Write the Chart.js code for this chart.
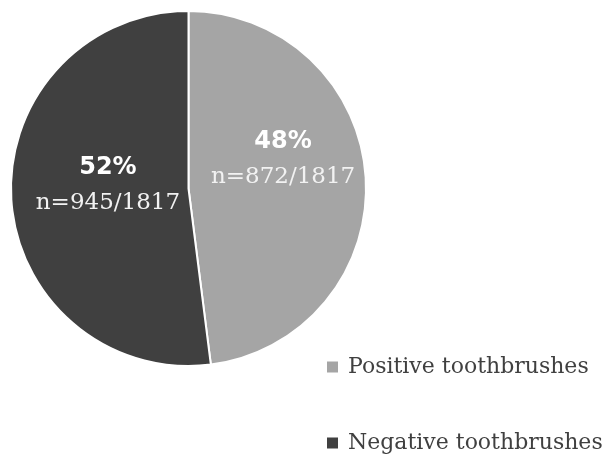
<!DOCTYPE html>
<html>
<head>
<meta charset="utf-8">
<script src="https://cdn.jsdelivr.net/npm/chart.js@4/dist/chart.umd.min.js"></script>
<style>
  html, body { margin: 0; padding: 0; background: #fff; }
  #wrap { width: 606px; height: 458px; position: relative; }
</style>
</head>
<body>
<div id="wrap"><canvas id="pie-chart"></canvas></div>
<script>
const labels = ['Positive toothbrushes', 'Negative toothbrushes']
const counts = [872, 945]
const total = 1817
const percents = ['48%', '52%']
const colors = ['#a5a5a5', '#404040']

const ctx = document.getElementById('pie-chart')

// label nudges relative to each slice's center point
const nudge = [[6, -24], [8, -9]]

const sliceLabels = {
  id: 'sliceLabels',
  afterDatasetsDraw(chart) {
    const c = chart.ctx
    const meta = chart.getDatasetMeta(0)
    meta.data.forEach((arc, i) => {
      const p = arc.tooltipPosition()
      const x = p.x + nudge[i][0]
      const y = p.y + nudge[i][1]
      c.save()
      c.fillStyle = '#ffffff'
      c.textAlign = 'center'
      c.textBaseline = 'middle'
      c.font = 'bold 24px "DejaVu Sans"'
      c.fillText(percents[i], x, y - 17)
      c.font = '23px "DejaVu Serif"'
      c.fillStyle = '#f2f2f2'
      c.fillText('n=' + counts[i] + '/' + total, x, y + 18)
      c.restore()
    })
  },
}

const sideLegend = {
  id: 'sideLegend',
  afterDraw(chart) {
    const c = chart.ctx
    const rows = [367, 443]
    labels.forEach((lab, i) => {
      c.save()
      c.fillStyle = colors[i]
      c.fillRect(327, rows[i] - 5.5, 11, 11)
      c.fillStyle = '#404040'
      c.font = '22px "DejaVu Serif"'
      c.textAlign = 'left'
      c.textBaseline = 'middle'
      c.fillText(lab, 348, rows[i])
      c.restore()
    })
  },
}

new Chart(ctx, {
  type: 'pie',
  data: {
    labels: labels,
    datasets: [
      {
        data: counts,
        backgroundColor: colors,
        borderColor: '#ffffff',
        borderWidth: 2,
      },
    ],
  },
  options: {
    responsive: true,
    maintainAspectRatio: false,
    animation: false,
    layout: {
      padding: { left: 10, top: 10, right: 239, bottom: 91 },
    },
    plugins: {
      legend: { display: false },
      tooltip: { enabled: false },
    },
  },
  plugins: [sliceLabels, sideLegend],
})
</script>
</body>
</html>
